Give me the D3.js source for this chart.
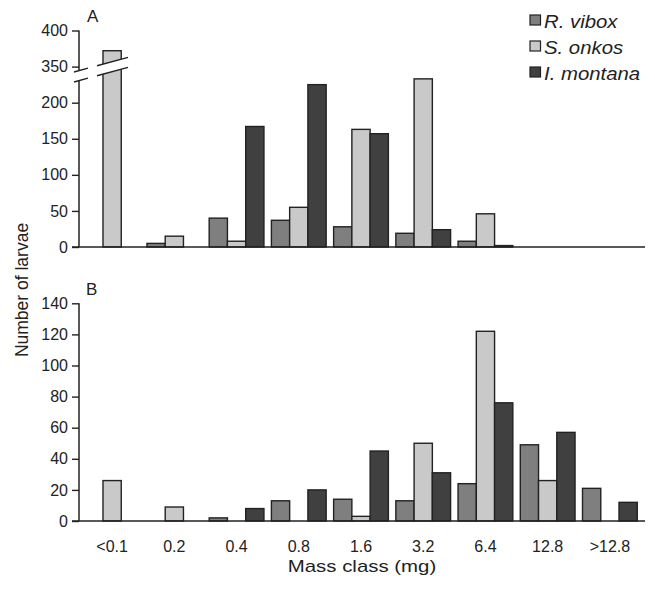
<!DOCTYPE html>
<html>
<head>
<meta charset="utf-8">
<script src="https://cdn.jsdelivr.net/npm/d3@7"></script>
<style>
  html, body { margin: 0; padding: 0; background: #fff; }
  svg { display: block; }
  text { font-family: "Liberation Sans", Arial, sans-serif; fill: #222; }
</style>
</head>
<body>
<svg id="chart" width="655" height="590"></svg>
<script>
// ---- Data ----
const categories = ["<0.1", "0.2", "0.4", "0.8", "1.6", "3.2", "6.4", "12.8", ">12.8"];
const seriesNames = ["R. vibox", "S. onkos", "I. montana"];
const seriesColors = ["#7f7f7f", "#c9c9c9", "#404040"];

// Panel A values
const panelA_Rvibox   = [0, 5, 40, 37, 28, 19, 8, 0, 0];
const panelA_Sonkos   = [372, 15, 8, 55, 163, 233, 46, 0, 0];
const panelA_Imontana = [0, 0, 167, 225, 157, 24, 2, 0, 0];

// Panel B values
const panelB_Rvibox   = [0, 0, 2, 13, 14, 13, 24, 49, 21];
const panelB_Sonkos   = [26, 9, 0, 0, 3, 50, 122, 26, 0];
const panelB_Imontana = [0, 0, 8, 20, 45, 31, 76, 57, 12];

const ticksA = [0, 50, 100, 150, 200, 350, 400];
const ticksB = [0, 20, 40, 60, 80, 100, 120, 140];

// ---- Layout ----
const svg = d3.select("#chart");
const axisX = 79;
const xRight = 645;
const stroke = "#222";

const x0 = d3.scaleBand().domain(categories).range([81, 641]).paddingInner(0.12).paddingOuter(0.06);
const x1 = d3.scaleBand().domain(seriesNames).range([0, x0.bandwidth()]);
const color = d3.scaleOrdinal().domain(seriesNames).range(seriesColors);

// Panel A: broken axis (250..350 collapsed)
const yA = d3.scaleLinear().domain([0, 250, 350, 400]).range([247, 66.6, 66.6, 30.5]);
const yB = d3.scaleLinear().domain([0, 140]).range([521, 303.3]);

function drawPanel(g, y, ticks, seriesData, breakAxis) {
  const rows = categories.map((c, i) => ({
    cat: c,
    vals: seriesNames.map((s, j) => ({ s, v: seriesData[j][i] }))
  }));
  const grp = g.selectAll("g.grp").data(rows).join("g")
    .attr("class", "grp")
    .attr("transform", d => `translate(${x0(d.cat)},0)`);
  grp.selectAll("rect").data(d => d.vals.filter(e => e.v > 0)).join("rect")
    .attr("x", d => x1(d.s))
    .attr("width", x1.bandwidth())
    .attr("y", d => y(d.v))
    .attr("height", d => y(0) - y(d.v))
    .attr("fill", d => color(d.s))
    .attr("stroke", stroke)
    .attr("stroke-width", 1.4);

  // y axis
  const ax = g.append("g").attr("transform", `translate(${axisX},0)`)
    .call(d3.axisLeft(y).tickValues(ticks).tickSize(7).tickPadding(4).tickFormat(d3.format("d")));
  ax.select(".domain").remove();
  ax.selectAll(".tick line").attr("stroke", stroke).attr("stroke-width", 1.4);
  ax.selectAll(".tick text").style("font-size", "16px").attr("fill", "#222")
    .style("font-family", '"Liberation Sans", Arial, sans-serif');

  const top = y(ticks[ticks.length - 1]);
  const base = y(0);
  if (!breakAxis) {
    g.append("line").attr("x1", axisX).attr("x2", axisX).attr("y1", top).attr("y2", base)
      .attr("stroke", stroke).attr("stroke-width", 1.5);
  } else {
    const up = x => 71.7 - 0.27 * (x - 75);
    const lo = x => up(x) + 10;
    g.append("line").attr("x1", axisX).attr("x2", axisX).attr("y1", top).attr("y2", up(axisX))
      .attr("stroke", stroke).attr("stroke-width", 1.5);
    g.append("line").attr("x1", axisX).attr("x2", axisX).attr("y1", lo(axisX)).attr("y2", base)
      .attr("stroke", stroke).attr("stroke-width", 1.5);
    // white gap across the bar
    const xa = 97, xb = 128;
    g.append("polygon")
      .attr("points", [[xa, up(xa)], [xb, up(xb)], [xb, lo(xb)], [xa, lo(xa)]].map(p => p.join(",")).join(" "))
      .attr("fill", "#fff");
    const segs = [[74, 88], [97, 128]];
    segs.forEach(([a, b]) => {
      [up, lo].forEach(f => {
        g.append("line").attr("x1", a).attr("y1", f(a)).attr("x2", b).attr("y2", f(b))
          .attr("stroke", stroke).attr("stroke-width", 1.4);
      });
    });
  }
  // baseline
  g.append("line").attr("x1", 72).attr("x2", xRight).attr("y1", base).attr("y2", base)
    .attr("stroke", stroke).attr("stroke-width", 1.5);
}

const gA = svg.append("g");
drawPanel(gA, yA, ticksA, [panelA_Rvibox, panelA_Sonkos, panelA_Imontana], true);
const gB = svg.append("g");
drawPanel(gB, yB, ticksB, [panelB_Rvibox, panelB_Sonkos, panelB_Imontana], false);

// x tick labels (panel B)
svg.append("g").selectAll("text").data(categories).join("text")
  .attr("x", d => x0(d) + x0.bandwidth() / 2)
  .attr("y", 552)
  .attr("text-anchor", "middle")
  .style("font-size", "16px")
  .text(d => d);

// stretched text helper
function stretch(sel, k) {
  sel.each(function () {
    const L = this.getComputedTextLength();
    d3.select(this).attr("textLength", L * k).attr("lengthAdjust", "spacingAndGlyphs");
  });
}

// Axis titles
const xt = svg.append("text").attr("x", 362).attr("y", 572).attr("text-anchor", "middle")
  .style("font-size", "17px").text("Mass class (mg)");
stretch(xt, 1.2);
svg.append("text").attr("transform", "translate(28,290) rotate(-90)").attr("text-anchor", "middle")
  .style("font-size", "17.5px").text("Number of larvae");

// Panel letters
svg.append("text").attr("x", 87).attr("y", 22).style("font-size", "17px").text("A");
svg.append("text").attr("x", 86).attr("y", 295).style("font-size", "17px").text("B");

// Legend
const lg = svg.append("g").selectAll("g").data(seriesNames).join("g")
  .attr("transform", (d, i) => `translate(530,${15 + i * 26})`);
lg.append("rect").attr("width", 10.5).attr("height", 10).attr("fill", d => color(d))
  .attr("stroke", stroke).attr("stroke-width", 1.2);
const lt = lg.append("text").attr("x", 14).attr("y", 12.5)
  .style("font-size", "18px").style("font-style", "italic").text(d => d);
stretch(lt, 1.13);
</script>
</body>
</html>
